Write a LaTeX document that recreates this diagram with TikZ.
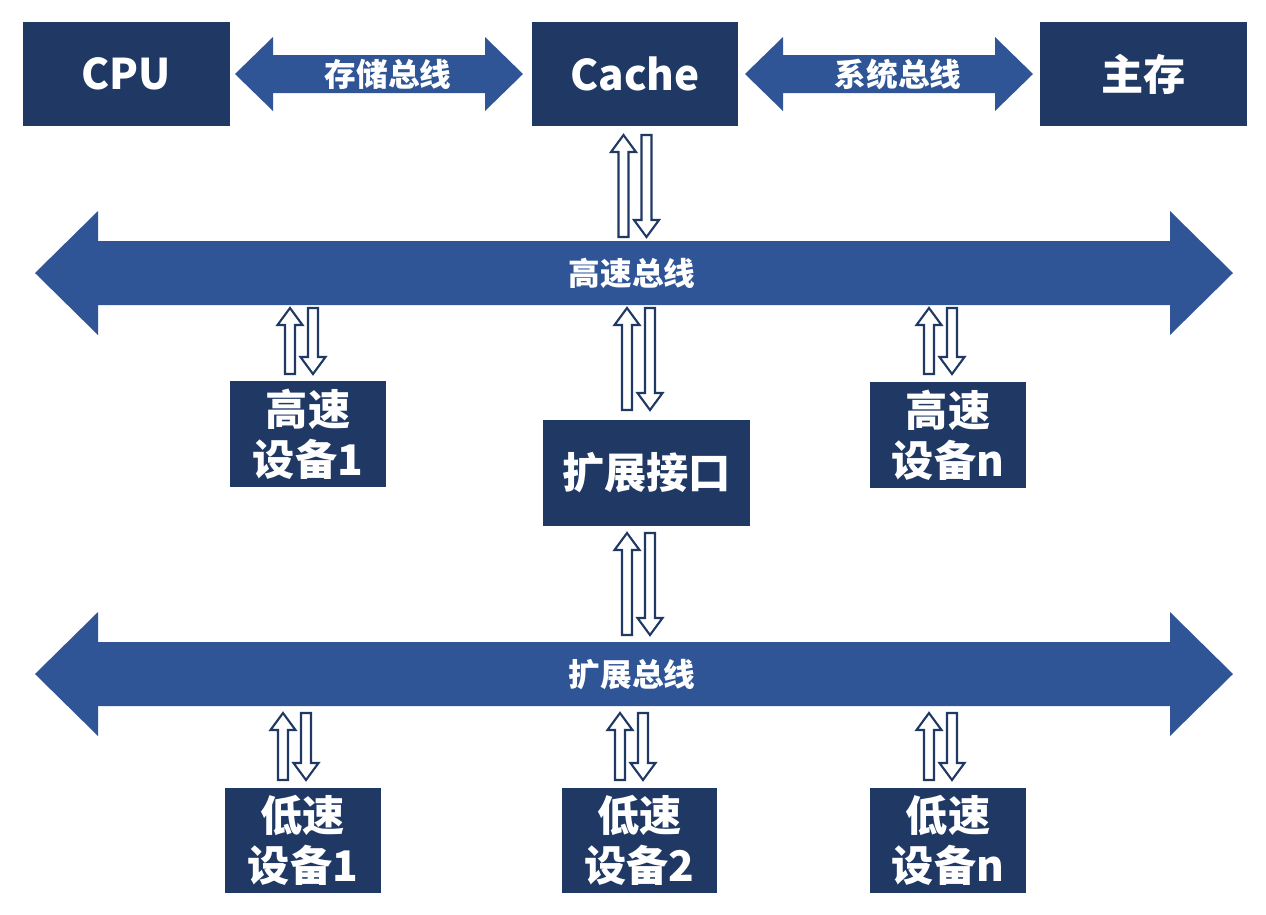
\documentclass[tikz,border=0pt]{standalone}
\usepackage{fontspec}
\setmainfont{Noto Sans CJK SC}
\usetikzlibrary{calc}
\definecolor{boxblue}{HTML}{1F3864}
\definecolor{busblue}{HTML}{2F5597}
\tikzset{
	unit/.style={fill=boxblue,text=white,font=\fontsize{12}{14.2}\selectfont\bfseries,inner sep=0pt,align=center,minimum height=1.04cm,minimum width=2.07cm},
	dev/.style={unit,minimum width=1.56cm,minimum height=1.06cm},
	buslabel/.style={text=white,font=\fontsize{9}{10}\selectfont\bfseries,inner sep=0pt},
	hollow/.style={draw=boxblue,fill=white,line width=0.6pt,line join=miter}
}
% bus arrow: x1, x2, y centre, half shaft, half head, head length
\newcommand{\busarrow}[6]{%
	\fill[busblue] (#1,#3) -- (#1+#6,#3-#5) -- (#1+#6,#3-#4) -- (#2-#6,#3-#4) -- (#2-#6,#3-#5) -- (#2,#3)
		-- (#2-#6,#3+#5) -- (#2-#6,#3+#4) -- (#1+#6,#3+#4) -- (#1+#6,#3+#5) -- cycle;}
% pair of hollow arrows: x of up arrow, top, bottom
\newcommand{\updown}[3]{%
	\draw[hollow] (#1,#2) -- (#1+12.5,#2+17) -- (#1+5,#2+17) -- (#1+5,#3) -- (#1-5,#3) -- (#1-5,#2+17) -- (#1-12.5,#2+17) -- cycle;
	\draw[hollow] (#1+23,#3) -- (#1+35.5,#3-17) -- (#1+28,#3-17) -- (#1+28,#2) -- (#1+18,#2) -- (#1+18,#3-17) -- (#1+10.5,#3-17) -- cycle;}
\begin{document}
\begin{tikzpicture}[x=0.01cm,y=-0.01cm]
	\useasboundingbox (0,0) rectangle (1266,914);
	%top row
	\node[unit] (cpu) at (126.5,74) {CPU};
	\node[unit,minimum width=2.06cm] (cache) at (635,74) {Cache};
	\node[unit] (mem) at (1143.5,74) {主存};
	%buses
	\busarrow{235}{523}{74}{19}{37}{38}
	\busarrow{745}{1033}{74}{19}{37}{38}
	\busarrow{35}{1233}{273}{32}{62}{63}
	\busarrow{35}{1233}{674}{32}{62}{63}
	\node[buslabel] (membus) at (388,74) {存储总线};
	\node[buslabel] (sysbus) at (898,74) {系统总线};
	\node[buslabel] (hsbus) at (632,273) {高速总线};
	\node[buslabel] (extbus) at (632,675) {扩展总线};
	%devices
	\node[dev] (hdev1) at (308,434) {高速\\设备1};
	\node[unit,minimum height=1.06cm] (ext) at (646.5,473) {扩展接口};
	\node[dev] (hdevn) at (948,435) {高速\\设备n};
	\node[dev,minimum height=1.05cm] (ldev1) at (303,840.5) {低速\\设备1};
	\node[dev,minimum height=1.05cm,minimum width=1.55cm] (ldev2) at (639.5,840.5) {低速\\设备2};
	\node[dev,minimum height=1.05cm] (ldevn) at (948,840.5) {低速\\设备n};
	%links
	\updown{623.5}{135}{237}
	\updown{290}{308}{374}
	\updown{627}{308}{410}
	\updown{929}{308}{374}
	\updown{627}{533}{635}
	\updown{283}{713}{780}
	\updown{620}{713}{780}
	\updown{929}{713}{780}
\end{tikzpicture}
\end{document}
